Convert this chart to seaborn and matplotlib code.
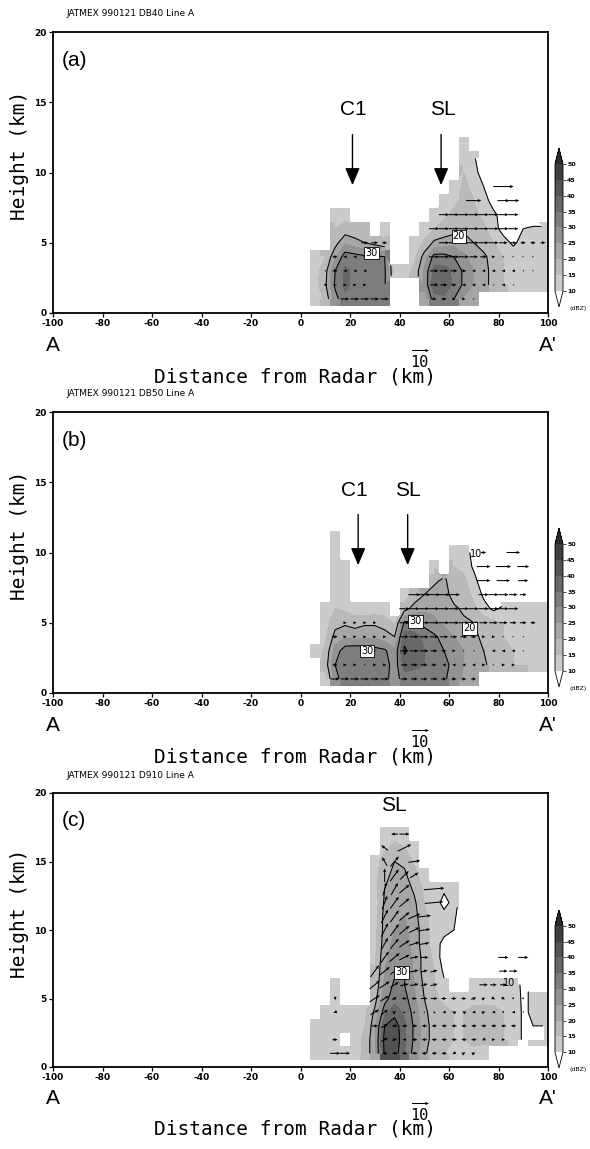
import numpy as np
import matplotlib
matplotlib.use("Agg")
import matplotlib.pyplot as plt
from matplotlib.colors import ListedColormap, BoundaryNorm
from matplotlib.cm import ScalarMappable
import seaborn as sns

N = np.nan

# ---------------- shared data ----------------
X_CENTERS = [6, 10, 14, 18, 22, 26, 30, 34, 38, 42, 46, 50,
             54, 58, 62, 66, 70, 74, 78, 82, 86, 90, 94, 98]
X_TICKS = [-100, -80, -60, -40, -20, 0, 20, 40, 60, 80, 100]
Y_TICKS = [0, 5, 10, 15, 20]
DBZ_LEVELS = [10, 15, 20, 25, 30, 35, 40, 45, 50]
CONTOUR_LEVELS = [10, 20, 30, 40]
REF_SPEED = 10

# ---------------- panel (a) ----------------
HEADER_A = "JATMEX 990121 DB40 Line A"
DBZ_Z_A = [12, 11, 10, 9, 8, 7, 6, 5, 4, 3, 2, 1]
DBZ_A = [
    [0, 0, 0, 0, 0, 0, 0, 0, 0, 0, 0, 0, 0, 0, 0, 12, 0, 0, 0, 0, 0, 0, 0, 0],
    [0, 0, 0, 0, 0, 0, 0, 0, 0, 0, 0, 0, 0, 0, 0, 14, 11, 5, 0, 0, 0, 0, 0, 0],
    [0, 0, 0, 0, 0, 0, 0, 0, 0, 0, 0, 0, 0, 0, 0, 15, 13, 6, 0, 0, 0, 0, 0, 0],
    [0, 0, 0, 0, 0, 0, 0, 0, 0, 0, 0, 0, 0, 0, 12, 16, 14, 10, 6, 5, 5, 5, 0, 0],
    [0, 0, 0, 0, 0, 0, 0, 0, 0, 0, 0, 0, 0, 12, 14, 16, 15, 12, 8, 5, 5, 5, 5, 0],
    [0, 0, 13, 13, 0, 0, 0, 0, 0, 0, 0, 0, 11, 14, 16, 17, 16, 14, 11, 8, 6, 5, 5, 0],
    [0, 0, 15, 17, 16, 15, 0, 12, 0, 0, 0, 12, 15, 17, 18, 19, 18, 16, 12, 8, 6, 10, 11, 11],
    [0, 0, 18, 24, 22, 20, 18, 16, 0, 0, 11, 16, 21, 22, 23, 22, 20, 18, 15, 12, 9, 12, 13, 13],
    [12, 15, 24, 33, 32, 31, 31, 30, 0, 0, 14, 22, 32, 32, 30, 26, 23, 21, 18, 15, 13, 14, 14, 14],
    [13, 18, 30, 36, 34, 35, 34, 31, 14, 13, 16, 26, 37, 37, 34, 29, 25, 22, 18, 15, 14, 14, 13, 12],
    [13, 19, 31, 36, 34, 35, 34, 31, 0, 0, 0, 26, 38, 38, 34, 29, 25, 22, 18, 15, 14, 13, 12, 12],
    [12, 16, 28, 34, 33, 32, 31, 30, 0, 0, 0, 22, 33, 34, 30, 24, 20, 0, 0, 0, 0, 0, 0, 0],
]
VEC_Z_A = [1, 2, 3, 4, 5, 6, 7, 8, 9]
VEC_U_A = [
    [N, N, N, 5, 5, 5, 5, 5, N, N, N, N, 3, 3, 2, 2, 1, N, N, N, N, N, N, N],
    [N, -2, 2, 2, 2, 2, N, N, N, N, N, N, 5, 4, 3, -2, -2, -2, -1, -2, -1, N, N, N],
    [N, -1, 3, -2, -2, -2, N, N, N, N, N, N, 5, 5, 4, 3, -2, -2, -2, -2, -2, -1, 1, N],
    [N, N, 3, -2, -2, -2, N, N, N, N, N, N, 6, 6, 6, 6, 5, 4, 2, 1, 1, 1, 1, N],
    [N, N, N, N, N, 4, 4, 3, N, N, N, N, N, 6, 6, 6, 6, 6, 6, 5, 4, 3, 3, 3],
    [N, N, N, N, N, N, N, N, N, N, N, N, 6, 6, 6, 6, 6, 6, 6, 6, 6, N, N, N],
    [N, N, N, N, N, N, N, N, N, N, N, N, N, 6, 6, 6, 6, 6, 6, 6, 6, N, N, N],
    [N, N, N, N, N, N, N, N, N, N, N, N, N, N, N, N, 9, N, N, 7, 7, N, N, N],
    [N, N, N, N, N, N, N, N, N, N, N, N, N, N, N, N, N, N, N, 12, N, N, N, N],
]
FEATURES_A = ["C1", "SL"]
FEATURE_TEXT_X_A = [21.5, 57.5]
FEATURE_ARROW_X_A = [21.0, 56.8]
CLABELS_A = [(28.8, 4.25, "30", True), (64.0, 5.45, "20", True)]

# ---------------- panel (b) ----------------
HEADER_B = "JATMEX 990121 DB50 Line A"
DBZ_Z_B = [11, 10, 9, 8, 7, 6, 5, 4, 3, 2, 1]
DBZ_B = [
    [0, 0, 12, 0, 0, 0, 0, 0, 0, 0, 0, 0, 0, 0, 0, 0, 0, 0, 0, 0, 0, 0, 0, 0],
    [0, 0, 13, 0, 0, 0, 0, 0, 0, 0, 0, 0, 0, 0, 12, 13, 8, 5, 0, 0, 0, 0, 0, 0],
    [0, 0, 13, 12, 0, 0, 0, 0, 0, 0, 0, 0, 14, 0, 15, 14, 9, 5, 0, 0, 0, 0, 0, 0],
    [0, 0, 14, 12, 0, 0, 0, 0, 0, 0, 0, 0, 19, 21, 17, 16, 12, 6, 0, 0, 0, 0, 0, 0],
    [0, 0, 14, 13, 0, 0, 0, 0, 0, 12, 17, 20, 22, 22, 18, 17, 14, 9, 5, 0, 0, 0, 0, 0],
    [0, 11, 15, 14, 12, 11, 12, 12, 0, 18, 22, 24, 24, 23, 21, 19, 16, 12, 9, 11, 12, 12, 12, 12],
    [0, 13, 18, 19, 18, 19, 19, 18, 14, 31, 31, 28, 26, 24, 22, 21, 20, 18, 16, 15, 14, 14, 13, 12],
    [0, 14, 22, 24, 23, 24, 24, 22, 20, 38, 37, 34, 31, 28, 25, 23, 21, 19, 17, 15, 15, 15, 14, 13],
    [12, 16, 27, 33, 34, 33, 32, 31, 26, 41, 37, 35, 33, 30, 27, 25, 22, 20, 18, 16, 15, 15, 14, 13],
    [0, 17, 30, 35, 35, 34, 34, 33, 27, 37, 36, 35, 34, 32, 28, 25, 23, 21, 18, 16, 15, 15, 14, 13],
    [0, 12, 28, 33, 34, 33, 33, 32, 27, 33, 33, 33, 32, 31, 27, 24, 21, 0, 0, 0, 0, 0, 0, 0],
]
VEC_Z_B = [1, 2, 3, 4, 5, 6, 7, 8, 9, 10]
VEC_U_B = [
    [N, N, 5, 5, 5, 5, 5, 5, N, 4, 4, 4, 4, 3, 3, 3, 3, N, N, N, N, N, N, N],
    [N, N, 3, 2, 2, 1, 2, 2, N, 4, 4, 4, 3, -2, -2, -2, -2, 2, 1, 2, 2, N, N, N],
    [N, N, N, N, N, 2, 2, N, N, 5, 5, 5, 4, 3, 2, 1, -1, -1, -2, -2, -2, -1, N, N],
    [N, N, 3, 2, 2, 2, 2, 2, N, 5, 5, 5, 5, 5, 4, 4, 3, 2, 2, 1, 1, -1, N, N],
    [N, N, N, 2, 2, 2, 2, N, N, 6, 6, 6, 6, 6, 6, 6, 6, 5, 5, 5, 4, 4, 3, N],
    [N, N, N, N, N, N, N, N, N, 6, 6, 6, 6, 6, 6, 6, 6, 6, 6, 6, 6, N, N, N],
    [N, N, N, N, N, N, N, N, N, N, 7, 7, 7, 7, 7, N, N, 6, 6, 6, 5, 4, N, N],
    [N, N, N, N, N, N, N, N, N, N, N, N, N, N, N, N, N, 8, N, 8, N, 6, N, N],
    [N, N, N, N, N, N, N, N, N, N, N, N, N, N, N, N, N, 8, N, 9, N, 7, N, N],
    [N, N, N, N, N, N, N, N, N, N, N, N, N, N, N, N, N, 3, N, N, 8, N, N, N],
]
FEATURES_B = ["C1", "SL"]
FEATURE_TEXT_X_B = [21.8, 43.3]
FEATURE_ARROW_X_B = [23.3, 43.3]
CLABELS_B = [(46.5, 5.1, "30", True), (26.9, 3.0, "30", True),
             (68.2, 4.6, "20", True), (70.9, 9.9, "10", False)]

# ---------------- panel (c) ----------------
HEADER_C = "JATMEX 990121 D910 Line A"
DBZ_Z_C = [17, 16, 15, 14, 13, 12, 11, 10, 9, 8, 7, 6, 5, 4, 3, 2, 1]
DBZ_C = [
    [0, 0, 0, 0, 0, 0, 0, 13, 14, 12, 0, 0, 0, 0, 0, 0, 0, 0, 0, 0, 0, 0, 0, 0],
    [0, 0, 0, 0, 0, 0, 0, 14, 16, 15, 12, 0, 0, 0, 0, 0, 0, 0, 0, 0, 0, 0, 0, 0],
    [0, 0, 0, 0, 0, 0, 12, 18, 20, 19, 14, 0, 0, 0, 0, 0, 0, 0, 0, 0, 0, 0, 0, 0],
    [0, 0, 0, 0, 0, 0, 13, 19, 21, 21, 17, 12, 0, 0, 0, 0, 0, 0, 0, 0, 0, 0, 0, 0],
    [0, 0, 0, 0, 0, 0, 13, 20, 22, 23, 19, 14, 12, 11, 11, 0, 0, 0, 0, 0, 0, 0, 0, 0],
    [0, 0, 0, 0, 0, 0, 12, 21, 23, 24, 21, 15, 13, 8, 12, 0, 0, 0, 0, 0, 0, 0, 0, 0],
    [0, 0, 0, 0, 0, 0, 12, 22, 24, 25, 22, 16, 13, 12, 11, 6, 0, 0, 0, 0, 0, 0, 0, 0],
    [0, 0, 0, 0, 0, 0, 13, 22, 25, 26, 23, 17, 13, 12, 10, 6, 0, 0, 0, 0, 0, 0, 0, 0],
    [0, 0, 0, 0, 0, 0, 13, 23, 26, 27, 23, 17, 13, 8, 6, 0, 0, 0, 0, 0, 0, 0, 0, 0],
    [0, 0, 0, 0, 0, 0, 14, 24, 27, 28, 24, 18, 14, 7, 0, 0, 0, 0, 0, 0, 0, 0, 0, 0],
    [0, 0, 0, 0, 0, 0, 15, 25, 29, 31, 24, 18, 15, 9, 0, 0, 0, 0, 0, 0, 0, 0, 0, 0],
    [0, 0, 11, 0, 0, 0, 16, 26, 31, 30, 25, 19, 15, 11, 0, 0, 12, 13, 13, 13, 12, 9, 0, 0],
    [0, 0, 12, 0, 0, 0, 18, 28, 33, 32, 26, 20, 16, 14, 13, 13, 14, 14, 14, 14, 13, 9, 11, 11],
    [0, 12, 14, 13, 12, 14, 21, 33, 38, 34, 28, 21, 18, 16, 15, 15, 16, 16, 16, 15, 14, 9, 11, 11],
    [11, 13, 14, 13, 12, 15, 23, 40, 43, 36, 29, 22, 18, 16, 15, 15, 16, 17, 17, 15, 14, 9, 10, 10],
    [12, 14, 13, 0, 13, 16, 24, 42, 44, 36, 29, 22, 18, 16, 15, 15, 16, 16, 16, 15, 14, 9, 10, 10],
    [12, 13, 13, 12, 13, 16, 24, 41, 43, 35, 28, 21, 17, 15, 14, 14, 14, 13, 0, 0, 0, 0, 0, 0],
]
VEC_Z_C = [1, 2, 3, 4, 5, 6, 7, 8, 9, 10, 11, 12, 13, 14, 15, 16, 17]
VEC_U_C = [
    [N, N, 6, 6, N, N, N, -3, -3, -3, -3, -3, -3, -3, -2, 2, 2, N, N, N, N, N, N, N],
    [N, N, 3, N, N, N, N, 4, 3, -2, -3, -3, -3, -3, -3, -3, -3, -2, 2, 2, N, N, N, N],
    [N, N, N, N, N, N, 4, 4, -3, -3, -3, -3, -3, -3, -3, -3, -3, -3, -3, -3, -3, N, N, N],
    [N, N, -2, N, N, N, 5, 4, 2, 1, 1, 0, -1, -2, -2, -2, -2, 2, -2, 1, -2, 0, N, N],
    [N, N, 0, N, N, N, 6, 5, 3, 3, 3, 4, 4, 3, 3, 3, 3, 2, 2, 2, 1, 1, N, N],
    [N, N, N, N, N, N, 6, 6, 5, 5, 5, 4, 4, N, N, N, N, 5, 4, 4, N, N, N, N],
    [N, N, N, N, N, N, 5, 6, 5, 5, 5, 4, 4, N, N, N, N, N, N, 5, 5, N, N, N],
    [N, N, N, N, N, N, N, 5, 6, 6, 5, 5, N, N, N, N, N, N, N, 6, N, 6, N, N],
    [N, N, N, N, N, N, N, 4, 5, 6, 6, 6, N, N, N, N, N, N, N, N, N, N, N, N],
    [N, N, N, N, N, N, N, 4, 5, 6, 6, 7, N, N, N, N, N, N, N, N, N, N, N, N],
    [N, N, N, N, N, N, N, 4, 5, 6, 7, 8, N, N, N, N, N, N, N, N, N, N, N, N],
    [N, N, N, N, N, N, N, 3, 5, 6, N, N, 11, N, N, N, N, N, N, N, N, N, N, N],
    [N, N, N, N, N, N, N, 2, 4, 6, N, N, 12, N, N, N, N, N, N, N, N, N, N, N],
    [N, N, N, N, N, N, N, 0, 5, 5, 5, N, N, N, N, N, N, N, N, N, N, N, N, N],
    [N, N, N, N, N, N, N, -3, 5, N, 7, N, N, N, N, N, N, N, N, N, N, N, N, N],
    [N, N, N, N, N, N, N, -4, N, 8, N, N, N, N, N, N, N, N, N, N, N, N, N, N],
    [N, N, N, N, N, N, N, N, -4, 6, N, N, N, N, N, N, N, N, N, N, N, N, N, N],
]
VEC_W_C = [
    [N, N, 0, 0, N, N, N, 0, 0, 0, 0, 0, 0, 0, -1, 1, 1, N, N, N, N, N, N, N],
    [N, N, 0, N, N, N, N, 2, 1, 0, 0, 0, 0, 0, 0, 0, 0, -1, 0, 0, N, N, N, N],
    [N, N, N, N, N, N, 0, 2, 0, 0, 0, 0, 0, 0, 0, 0, 0, 0, 0, 0, 0, N, N, N],
    [N, N, -1, N, N, N, 3, 3, 1, 1, 1, 1, 1, 0, 1, 1, 0, 1, 0, -1, 0, -1, N, N],
    [N, N, -2, N, N, N, 4, 3, 1, 0, 0, 0, 0, 0, 0, 0, 1, 1, -1, -1, -1, -1, N, N],
    [N, N, N, N, N, N, 5, 4, 3, 1, 1, 1, 1, N, N, N, N, 0, 0, 0, N, N, N, N],
    [N, N, N, N, N, N, 7, 5, 4, 2, 1, 1, 1, N, N, N, N, N, N, 0, 0, N, N, N],
    [N, N, N, N, N, N, N, 7, 5, 3, 1, 0, N, N, N, N, N, N, N, 0, N, 0, N, N],
    [N, N, N, N, N, N, N, 7, 6, 4, 2, 1, N, N, N, N, N, N, N, N, N, N, N, N],
    [N, N, N, N, N, N, N, 8, 7, 5, 3, 1, N, N, N, N, N, N, N, N, N, N, N, N],
    [N, N, N, N, N, N, N, 8, 7, 5, 3, 1, N, N, N, N, N, N, N, N, N, N, N, N],
    [N, N, N, N, N, N, N, 8, 7, 5, N, N, 1, N, N, N, N, N, N, N, N, N, N, N],
    [N, N, N, N, N, N, N, 8, 7, 5, N, N, 1, N, N, N, N, N, N, N, N, N, N, N],
    [N, N, N, N, N, N, N, 8, 7, 5, 3, N, N, N, N, N, N, N, N, N, N, N, N, N],
    [N, N, N, N, N, N, N, 5, 6, N, 1, N, N, N, N, N, N, N, N, N, N, N, N, N],
    [N, N, N, N, N, N, N, 3, N, 4, N, N, N, N, N, N, N, N, N, N, N, N, N, N],
    [N, N, N, N, N, N, N, N, 0, 0, N, N, N, N, N, N, N, N, N, N, N, N, N, N],
]
FEATURES_C = ["SL"]
FEATURE_TEXT_X_C = [37.6]
FEATURE_ARROW_X_C = []
CLABELS_C = [(40.9, 6.9, "30", True), (84.4, 6.1, "10", False)]

# ---------------- style ----------------
sns.set_theme(style="ticks")
plt.rcParams.update({
    "font.family": ["DejaVu Sans"],
    "text.color": "black",
    "axes.labelcolor": "black",
    "axes.edgecolor": "black",
    "axes.linewidth": 1.3,
    "axes.facecolor": "white",
    "xtick.color": "black",
    "ytick.color": "black",
    "xtick.major.size": 3,
    "ytick.major.size": 3,
    "xtick.major.width": 0.9,
    "ytick.major.width": 0.9,
    "xtick.major.pad": 1.5,
    "ytick.major.pad": 1.5,
})

GRAYS = ["#cbcbcb", "#b9b9b9", "#a6a6a6", "#939393",
         "#7d7d7d", "#676767", "#525252", "#3e3e3e"]
cmap = ListedColormap(GRAYS)
cmap.set_under("white")
cmap.set_over("#2a2a2a")
cmap.set_bad((1, 1, 1, 0))
norm = BoundaryNorm(DBZ_LEVELS, cmap.N)

SANS = ["Liberation Sans", "DejaVu Sans"]
MONO = ["DejaVu Sans Mono"]

fig = plt.figure(figsize=(5.9, 11.49), dpi=100)

AX_LEFT, AX_W = 53 / 590, 495 / 590
RECTS = [
    [AX_LEFT, 1 - 313 / 1149, AX_W, 281 / 1149],
    [AX_LEFT, 1 - 693 / 1149, AX_W, 281 / 1149],
    [AX_LEFT, 1 - 1067 / 1149, AX_W, 274 / 1149],
]
CRECTS = [
    [555 / 590, 1 - 307 / 1149, 8 / 590, 159 / 1149],
    [555 / 590, 1 - 687 / 1149, 8 / 590, 159 / 1149],
    [555 / 590, 1 - 1068 / 1149, 8 / 590, 158 / 1149],
]


def draw_panel(rect, crect, header, letter, dbz_z, dbz, vec_z, vec_u, vec_w,
               feats, feat_tx, feat_ax, clabels, feat_z):
    ax = fig.add_axes(rect)
    xc = np.array(X_CENTERS, float)
    zc = np.array(dbz_z, float)
    Z = np.array(dbz, float)
    order = np.argsort(zc)
    zc, Z = zc[order], Z[order]
    Zm = np.ma.masked_less_equal(Z, 0)
    dx = xc[1] - xc[0]
    dz = zc[1] - zc[0]
    xe = np.append(xc - dx / 2, xc[-1] + dx / 2)
    ze = np.append(zc - dz / 2, zc[-1] + dz / 2)
    ax.pcolormesh(xe, ze, Zm, cmap=cmap, norm=norm, shading="flat", zorder=1)
    ax.contourf(xc, zc, Zm, levels=DBZ_LEVELS, cmap=cmap, norm=norm,
                extend="both", zorder=2)
    ax.contour(xc, zc, Zm, levels=CONTOUR_LEVELS, colors="black",
               linewidths=0.75, zorder=3)

    U = np.array(vec_u, float)
    W = np.zeros_like(U) if vec_w is None else np.array(vec_w, float)
    XX, ZZ = np.meshgrid(xc, np.array(vec_z, float))
    ok = np.isfinite(U)
    q = ax.quiver(XX[ok], ZZ[ok], U[ok], W[ok], pivot="middle",
                  scale_units="inches", scale=REF_SPEED / 0.17,
                  width=0.0021, headwidth=3.2, headlength=3.6,
                  headaxislength=3.2, color="black", zorder=5)
    ax.quiverkey(q, 0.741, -0.13, REF_SPEED, str(REF_SPEED), labelpos="S",
                 coordinates="axes", labelsep=0.05,
                 fontproperties={"family": MONO, "size": 11})

    for x, z, s, boxed in clabels:
        bbox = dict(boxstyle="square,pad=0.12", fc="white", ec="black",
                    lw=0.6) if boxed else None
        ax.text(x, z, s, ha="center", va="center", fontsize=7,
                bbox=bbox, zorder=6)

    for i, name in enumerate(feats):
        ax.text(feat_tx[i], feat_z, name, ha="center", va="center",
                fontsize=15, family=SANS, zorder=6)
    for xa in feat_ax:
        ax.annotate("", xy=(xa, 9.1), xytext=(xa, 12.7),
                    arrowprops=dict(arrowstyle="-|>,head_length=0.75,head_width=0.32",
                                    color="black", lw=1.0, mutation_scale=14,
                                    shrinkA=0, shrinkB=0), zorder=6)

    ax.set_xlim(X_TICKS[0], X_TICKS[-1])
    ax.set_ylim(Y_TICKS[0], Y_TICKS[-1])
    ax.set_xticks(X_TICKS)
    ax.set_yticks(Y_TICKS)
    ax.set_xticklabels([str(t) for t in X_TICKS])
    ax.set_yticklabels([str(t) for t in Y_TICKS])
    for lbl in ax.get_xticklabels() + ax.get_yticklabels():
        lbl.set_fontsize(6.5)
        lbl.set_fontweight("bold")
    ax.tick_params(direction="out")

    ax.text(0.028, 1.065, header, transform=ax.transAxes, fontsize=6.5,
            ha="left", va="center")
    ax.text(0.018, 0.90, letter, transform=ax.transAxes, fontsize=15,
            family=SANS, ha="left", va="center")
    ax.text(-0.067, 0.56, "Height (km)", transform=ax.transAxes,
            rotation=90, ha="center", va="center", fontsize=14, family=MONO)
    ax.text(0.489, -0.228, "Distance from Radar (km)", transform=ax.transAxes,
            ha="center", va="center", fontsize=14, family=MONO)
    ax.text(0.0, -0.114, "A", transform=ax.transAxes, ha="center",
            va="center", fontsize=15, family=SANS)
    ax.text(1.0, -0.114, "A'", transform=ax.transAxes, ha="center",
            va="center", fontsize=15, family=SANS)

    cax = fig.add_axes(crect)
    sm = ScalarMappable(norm=norm, cmap=cmap)
    cb = fig.colorbar(sm, cax=cax, extend="both", extendfrac=0.126,
                      ticks=DBZ_LEVELS)
    cb.outline.set_linewidth(0.6)
    cb.ax.tick_params(labelsize=4.5, length=2, width=0.5, pad=1)
    for t in cb.ax.get_yticklabels():
        t.set_fontweight("bold")
    cax.text(2.9, -0.14, "(dBZ)", transform=cax.transAxes, fontsize=4.5,
             ha="center", va="center")
    return ax


draw_panel(RECTS[0], CRECTS[0], HEADER_A, "(a)", DBZ_Z_A, DBZ_A, VEC_Z_A,
           VEC_U_A, None, FEATURES_A, FEATURE_TEXT_X_A, FEATURE_ARROW_X_A,
           CLABELS_A, 14.5)
draw_panel(RECTS[1], CRECTS[1], HEADER_B, "(b)", DBZ_Z_B, DBZ_B, VEC_Z_B,
           VEC_U_B, None, FEATURES_B, FEATURE_TEXT_X_B, FEATURE_ARROW_X_B,
           CLABELS_B, 14.4)
draw_panel(RECTS[2], CRECTS[2], HEADER_C, "(c)", DBZ_Z_C, DBZ_C, VEC_Z_C,
           VEC_U_C, VEC_W_C, FEATURES_C, FEATURE_TEXT_X_C, FEATURE_ARROW_X_C,
           CLABELS_C, 19.1)

fig.savefig("out.png", dpi=100)
